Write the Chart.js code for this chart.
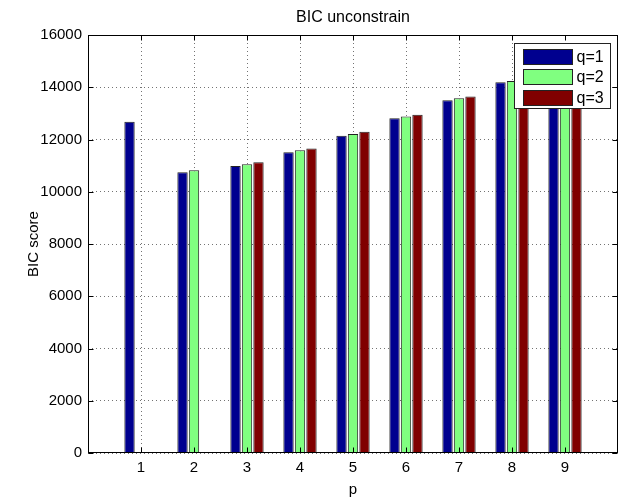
<!DOCTYPE html>
<html>
<head>
<meta charset="utf-8">
<script src="https://cdn.jsdelivr.net/npm/chart.js@4/dist/chart.umd.min.js"></script>
<style>
  html, body { margin: 0; padding: 0; background: #fff; }
  #wrap { width: 627px; height: 499px; }
</style>
</head>
<body>
<div id="wrap"><canvas id="c" width="627" height="499"></canvas></div>
<script>
// BIC score per model order p, for q = 1, 2, 3
const categories = [1, 2, 3, 4, 5, 6, 7, 8, 9];
const q1 = [12680, 10745, 10985, 11510, 12145, 12810, 13500, 14190, 14880];
const q2 = [null, 10820, 11050, 11585, 12210, 12885, 13575, 14240, 14950];
const q3 = [null, null, 11125, 11660, 12300, 12950, 13650, 14310, 15020];
const seriesNames = ['q=1', 'q=2', 'q=3'];
const seriesColors = ['#00008F', '#80FF80', '#800000'];
const yTicks = [0, 2000, 4000, 6000, 8000, 10000, 12000, 14000, 16000];

const FONT = 'Liberation Sans, Arial, Helvetica, sans-serif';
const TICK_LEN = 5;

function toPoints(values) {
  return categories.map((p, i) => ({ x: p, y: values[i] })).filter(d => d.y !== null);
}

// Boxed axes with inward tick marks on all four sides, plus a boxed legend
const boxPlugin = {
  id: 'boxPlugin',
  afterDatasetsDraw(chart) {
    const { ctx, chartArea: a, scales } = chart;
    const L = Math.round(a.left) + 0.5, R = Math.round(a.right) - 0.5;
    const T = Math.round(a.top) + 0.5, B = Math.round(a.bottom) - 0.5;
    ctx.save();
    ctx.strokeStyle = '#000';
    ctx.lineWidth = 1;
    ctx.setLineDash([]);
    ctx.strokeRect(L, T, R - L, B - T);
    ctx.beginPath();
    scales.x.ticks.forEach(t => {
      const px = Math.round(scales.x.getPixelForValue(t.value)) + 0.5;
      ctx.moveTo(px, B); ctx.lineTo(px, B - TICK_LEN);
      ctx.moveTo(px, T); ctx.lineTo(px, T + TICK_LEN);
    });
    scales.y.ticks.forEach(t => {
      const py = Math.round(scales.y.getPixelForValue(t.value)) + 0.5;
      ctx.moveTo(L, py); ctx.lineTo(L + TICK_LEN, py);
      ctx.moveTo(R, py); ctx.lineTo(R - TICK_LEN, py);
    });
    ctx.stroke();
    ctx.restore();
  },
  afterDraw(chart) {
    const { ctx, chartArea: a } = chart;
    const boxW = 96, boxH = 65, inset = 8;
    const bx = Math.round(a.right - inset - boxW) + 0.5;
    const by = Math.round(a.top + inset) + 0.5;
    ctx.save();
    ctx.fillStyle = '#fff';
    ctx.fillRect(bx, by, boxW, boxH);
    ctx.strokeStyle = '#222';
    ctx.lineWidth = 1;
    ctx.strokeRect(bx, by, boxW, boxH);
    chart.data.datasets.forEach((ds, i) => {
      const sx = bx + 9, sy = Math.round(by + 5 + i * 20.5);
      ctx.fillStyle = ds.backgroundColor;
      ctx.fillRect(sx, sy, 49, 15);
      ctx.strokeStyle = '#222';
      ctx.strokeRect(sx, sy + 0.5, 49, 15);
      ctx.fillStyle = '#000';
      ctx.font = '16px ' + FONT;
      ctx.textBaseline = 'middle';
      ctx.textAlign = 'left';
      ctx.fillText(ds.label, sx + 53, sy + 8.5);
    });
    ctx.restore();
  }
};

new Chart(document.getElementById('c'), {
  type: 'bar',
  data: {
    datasets: [q1, q2, q3].map((vals, i) => ({
      label: seriesNames[i],
      data: toPoints(vals),
      backgroundColor: seriesColors[i],
      borderColor: '#222',
      borderWidth: 1,
      categoryPercentage: 0.65,
      barPercentage: 0.9
    }))
  },
  options: {
    responsive: false,
    animation: false,
    layout: { padding: { left: 0, right: 9, top: 0, bottom: 0 } },
    plugins: {
      legend: { display: false },
      tooltip: { enabled: false },
      title: {
        display: true,
        fullSize: false,
        text: 'BIC unconstrain',
        color: '#000',
        font: { family: FONT, size: 16, weight: 'normal' },
        padding: { top: 8, bottom: 7.8 }
      }
    },
    scales: {
      x: {
        type: 'linear',
        min: 0,
        max: 10,
        offset: false,
        afterBuildTicks(scale) {
          scale.ticks = categories.map(v => ({ value: v }));
        },
        afterFit(scale) { scale.height = 46; },
        ticks: {
          color: '#000',
          font: { family: FONT, size: 15 },
          padding: 6,
          maxRotation: 0,
          callback: v => String(v)
        },
        grid: {
          offset: false,
          color: 'rgba(0,0,0,0.55)',
          lineWidth: 1,
          drawTicks: false,
          tickLength: 0
        },
        border: { display: false, dash: [1, 3] },
        title: {
          display: true,
          text: 'p',
          color: '#000',
          font: { family: FONT, size: 15 },
          padding: { top: 0, bottom: 0 }
        }
      },
      y: {
        min: 0,
        max: 16000,
        afterBuildTicks(scale) {
          scale.ticks = yTicks.map(v => ({ value: v }));
        },
        afterFit(scale) { scale.width = 88; },
        ticks: {
          color: '#000',
          font: { family: FONT, size: 15 },
          padding: 6,
          callback: v => String(v)
        },
        grid: {
          color: 'rgba(0,0,0,0.55)',
          lineWidth: 1,
          drawTicks: false,
          tickLength: 0
        },
        border: { display: false, dash: [1, 3] },
        title: {
          display: true,
          text: 'BIC score',
          color: '#000',
          font: { family: FONT, size: 15 },
          padding: { top: 25, bottom: 0 }
        }
      }
    }
  },
  plugins: [boxPlugin]
});
</script>
</body>
</html>
